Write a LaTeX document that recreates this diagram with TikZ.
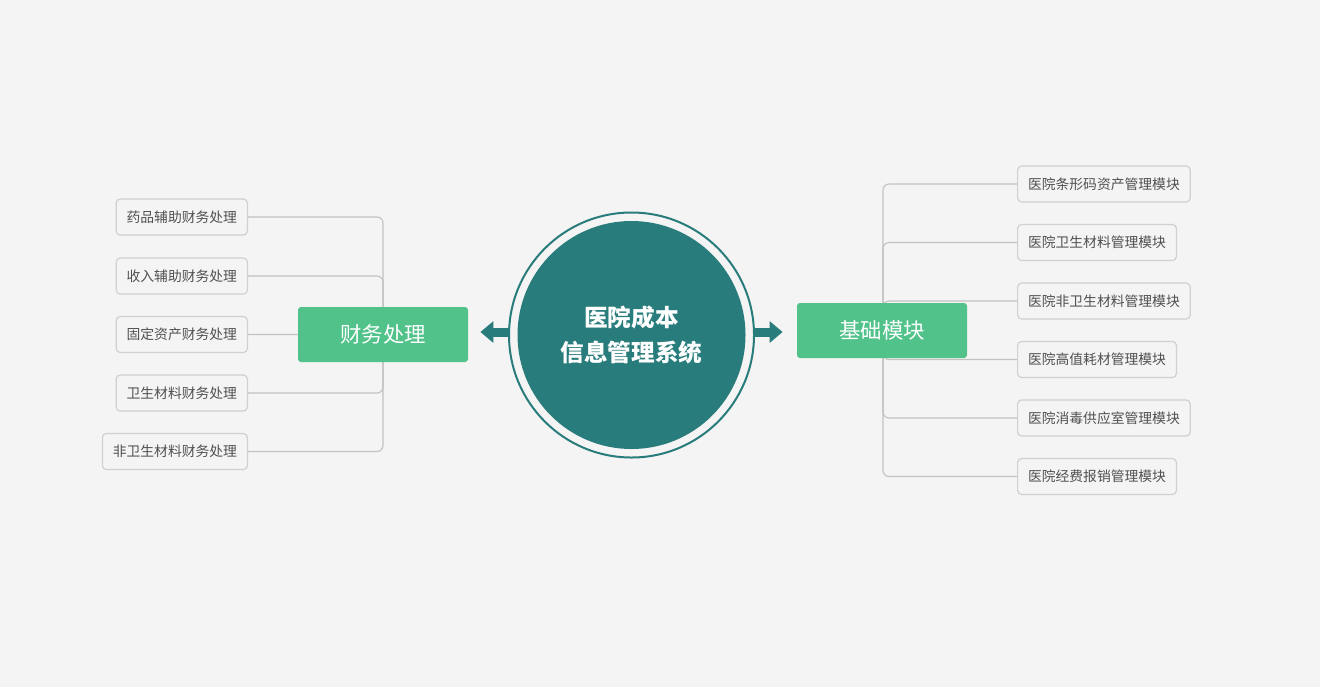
\documentclass[tikz,border=0pt]{standalone}
\usepackage{fontspec}
\newfontfamily\cjk{Noto Sans CJK SC}
\usetikzlibrary{arrows.meta,backgrounds}
\definecolor{bgc}{HTML}{F4F4F4}
\definecolor{teal}{HTML}{287C7B}
\definecolor{grn}{HTML}{50C28A}
\definecolor{lnc}{HTML}{C2C2C2}
\definecolor{bdc}{HTML}{D0D0D0}
\definecolor{txc}{HTML}{505050}
\tikzset{
  leaf/.style={draw=bdc, line width=0.6pt, fill=bgc, rounded corners=2pt, minimum height=18pt,
    inner xsep=5.2pt, text=txc, font=\cjk\fontsize{6.9pt}{8pt}\selectfont},
  rootbox/.style={fill=grn, rounded corners=1.5pt, minimum width=85pt, minimum height=27.5pt,
    text=white, font=\cjk\fontsize{10.7pt}{12pt}\selectfont},
  link/.style={draw=lnc, line width=0.55pt, rounded corners=3pt},
  bigarrow/.style={draw=teal, line width=4.5pt, -{Triangle[width=10.5pt,length=6.5pt]}}
}
\begin{document}
\begin{tikzpicture}[x=0.5pt,y=-0.5pt]
\begin{scope}[on background layer]
\fill[bgc] (0,0) rectangle (1320,687);
\end{scope}
\useasboundingbox (0,0) rectangle (1320,687);
% centre
\node[circle, draw=teal, line width=1pt, fill=bgc, minimum size=122.5pt, inner sep=0pt] (circ) at (631.5,335) {};
\node[circle, fill=teal, minimum size=114pt, inner sep=0pt, text=white, align=center,
  font=\cjk\bfseries\fontsize{11.8pt}{17.5pt}\selectfont] (core) at (631.5,335) {医院成本\\信息管理系统};
% roots
\node[rootbox] (lroot) at (383,334.5) {财务处理};
\node[rootbox] (rroot) at (882,330.5) {基础模块};
% left leaves
\node[leaf, anchor=east] (l1) at (248,217) {药品辅助财务处理};
\node[leaf, anchor=east] (l2) at (248,276) {收入辅助财务处理};
\node[leaf, anchor=east] (l3) at (248,334.5) {固定资产财务处理};
\node[leaf, anchor=east] (l4) at (248,393) {卫生材料财务处理};
\node[leaf, anchor=east] (l5) at (248,451.5) {非卫生材料财务处理};
% right leaves
\node[leaf, anchor=west] (r1) at (1017,184) {医院条形码资产管理模块};
\node[leaf, anchor=west] (r2) at (1017,242.5) {医院卫生材料管理模块};
\node[leaf, anchor=west] (r3) at (1017,301) {医院非卫生材料管理模块};
\node[leaf, anchor=west] (r4) at (1017,359.5) {医院高值耗材管理模块};
\node[leaf, anchor=west] (r5) at (1017,418) {医院消毒供应室管理模块};
\node[leaf, anchor=west] (r6) at (1017,476.5) {医院经费报销管理模块};
% links
\begin{scope}[on background layer]
\foreach \n in {l1,l2,l3,l4,l5}{\draw[link] (lroot.center) |- (\n.east);}
\foreach \n in {r1,r2,r3,r4,r5,r6}{\draw[link] ([xshift=0.5pt]rroot.center) |- (\n.west);}
\end{scope}
% arrows
\coordinate (la) at ([yshift=1.5pt]circ.west);
\coordinate (ra) at ([yshift=1.5pt]circ.east);
\draw[bigarrow, shorten >=6pt] (la) -- (la -| lroot.east);
\draw[bigarrow, shorten >=7pt] (ra) -- (ra -| rroot.west);
\end{tikzpicture}
\end{document}
